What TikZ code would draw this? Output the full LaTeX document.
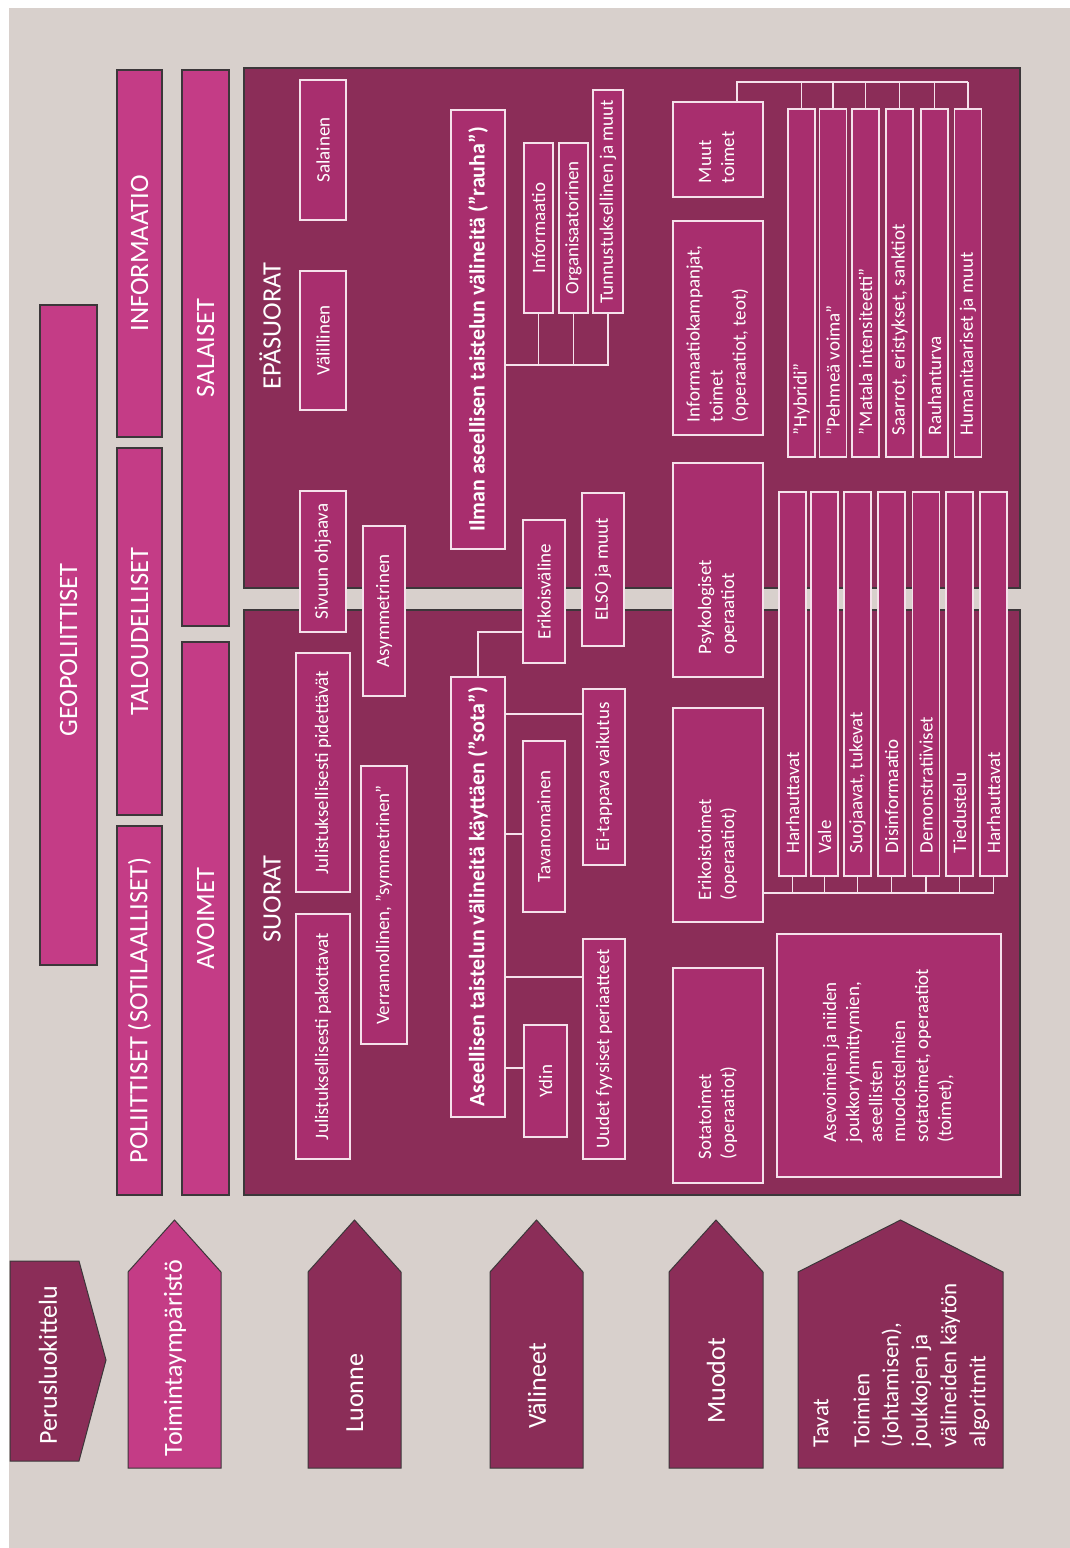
\documentclass[tikz,border=0pt]{standalone}
\usepackage{fontspec}
\setmainfont{Carlito}
\usepackage{graphicx}
\definecolor{bgcol}{HTML}{D8D0CC}
\definecolor{pinkA}{HTML}{C43C86}
\definecolor{plum}{HTML}{8B2D58}
\definecolor{boxfill}{HTML}{A82E6E}
\definecolor{boxline}{HTML}{F5E1EB}
\definecolor{edgegray}{HTML}{3C373A}
\newcommand{\vtext}[1]{\rotatebox{90}{#1}}
\newcommand{\vleft}[2]{\rotatebox{90}{\makebox[#1][l]{#2}}}
\newcommand{\mlines}[1]{\begin{tabular}{@{}l@{}}#1\end{tabular}}

\begin{document}
\begin{tikzpicture}[x=1pt,y=-1pt,
  colbox/.style={draw=edgegray,line width=1.5pt,fill=pinkA,inner sep=0pt,text=white,font=\fontsize{26.5}{30}\selectfont},
  bigbox/.style={draw=edgegray,line width=1.2pt,fill=plum,inner sep=0pt},
  headlabel/.style={inner sep=0pt,text=white,font=\fontsize{26.5}{30}\selectfont},
  ibox/.style={draw=boxline,line width=1.5pt,fill=boxfill,inner sep=0pt,text=white,font=\fontsize{19}{23}\selectfont},
  tbox/.style={ibox,font=\bfseries\fontsize{22}{26}\selectfont},
  conn/.style={draw=boxline,line width=1.5pt},
  tagshape/.style={draw=edgegray,line width=1pt},
  tagtext/.style={inner sep=0pt,text=white,font=\fontsize{26}{30}\selectfont}]
  \useasboundingbox (0,0) rectangle (1070,1548);
  \fill[bgcol] (9,8) rectangle (1070,1548);

  % toimintaympariston sarakkeet
  \node[colbox,minimum width=57,minimum height=660] (geo)  at (68.5,635)   {\vtext{GEOPOLIITTISET\hspace*{30pt}}};
  \node[colbox,minimum width=45,minimum height=369] (pol)  at (139.5,1010.5) {\vtext{POLIITTISET (SOTILAALLISET)}};
  \node[colbox,minimum width=45,minimum height=367] (tal)  at (139.5,631.5)  {\vtext{TALOUDELLISET}};
  \node[colbox,minimum width=45,minimum height=367] (infc) at (139.5,253.5)  {\vtext{INFORMAATIO}};
  \node[colbox,minimum width=47,minimum height=556] (sala) at (205.5,348)    {\vtext{SALAISET}};
  \node[colbox,minimum width=47,minimum height=553] (avo)  at (205.5,918.5)  {\vtext{AVOIMET}};

  % epasuorat ja suorat
  \node[bigbox,minimum width=776,minimum height=520] (epa) at (632,328)   {};
  \node[bigbox,minimum width=776,minimum height=585] (suo) at (632,902.5) {};
  \node[headlabel] (epal) at (270,326) {\vtext{EPÄSUORAT}};
  \node[headlabel] (suol) at (272,899) {\vtext{SUORAT}};

  % luonne
  \node[ibox,minimum width=46,minimum height=140] (sal)  at (323,150)    {\vtext{Salainen}};
  \node[ibox,minimum width=46,minimum height=139] (val)  at (323,340.5)  {\vtext{Välillinen}};
  \node[ibox,minimum width=46,minimum height=141] (siv)  at (323,561.5)  {\vtext{Sivuun ohjaava}};
  \node[ibox,minimum width=42,minimum height=170] (asy)  at (384,611)    {\vtext{Asymmetrinen}};
  \node[ibox,minimum width=54,minimum height=239] (jpid) at (323,772.5)  {\vtext{Julistuksellisesti pidettävät}};
  \node[ibox,minimum width=54,minimum height=245] (jpak) at (323,1036.5) {\vtext{Julistuksellisesti pakottavat}};
  \node[ibox,minimum width=46,minimum height=278] (ver)  at (384,905)    {\vtext{Verrannollinen, ”symmetrinen”}};

  % valineet
  \node[tbox,minimum width=54,minimum height=439] (ilm)  at (478,329.5)  {\vtext{Ilman aseellisen taistelun välineitä (”rauha”)}};
  \node[ibox,minimum width=29,minimum height=170] (infm) at (538.5,228)  {\vtext{Informaatio}};
  \node[ibox,minimum width=29,minimum height=170] (org)  at (573.5,228)  {\vtext{Organisaatorinen}};
  \node[ibox,minimum width=30,minimum height=223] (tun)  at (608,201.5)  {\vtext{Tunnustuksellinen ja muut}};
  \node[ibox,minimum width=42,minimum height=143] (erv)  at (544,591.5)  {\vtext{Erikoisväline}};
  \node[ibox,minimum width=42,minimum height=153] (elso) at (603,569.5)  {\vtext{ELSO ja muut}};
  \node[tbox,minimum width=54,minimum height=440] (ase)  at (478,897)    {\vtext{Aseellisen taistelun välineitä käyttäen (”sota”)}};
  \node[ibox,minimum width=42,minimum height=171] (tav)  at (544,826.5)  {\vtext{Tavanomainen}};
  \node[ibox,minimum width=43,minimum height=112] (ydin) at (545.5,1081) {\vtext{Ydin}};
  \node[ibox,minimum width=42,minimum height=176] (eit)  at (604,777)    {\vtext{Ei-tappava vaikutus}};
  \node[ibox,minimum width=42,minimum height=220] (uud)  at (604,1049)   {\vtext{Uudet fyysiset periaatteet}};

  % muodot
  \node[ibox,minimum width=90,minimum height=95]  (muu)  at (718,149.5)  {\vleft{67pt}{\mlines{Muut\\toimet}}};
  \node[ibox,minimum width=90,minimum height=214] (ikam) at (718,328)    {\vleft{188pt}{\mlines{Informaatiokampanjat,\\toimet\\(operaatiot, teot)}}};
  \node[ibox,minimum width=90,minimum height=214] (psy)  at (718,570)    {\vleft{168pt}{\mlines{Psykologiset\\operaatiot}}};
  \node[ibox,minimum width=90,minimum height=214] (erk)  at (718,815)    {\vleft{170pt}{\mlines{Erikoistoimet\\(operaatiot)}}};
  \node[ibox,minimum width=90,minimum height=215] (sot)  at (718,1075.5) {\vleft{167pt}{\mlines{Sotatoimet\\(operaatiot)}}};
  \node[ibox,minimum width=224,minimum height=243] (asev) at (889,1055.5) {\vtext{\mlines{Asevoimien ja niiden\\joukkoryhmittymien,\\aseellisten\\muodostelmien\\sotatoimet, operaatiot\\(toimet),}}};

  \foreach \n/\x/\t in {hyb/801.5/{”Hybridi”}, peh/833/{”Pehmeä voima”}, mat/865.5/{”Matala intensiteetti”},
                        saa/899.5/{Saarrot, eristykset, sanktiot}, rau/934.5/Rauhanturva, hum/968/{Humanitaariset ja muut}}
    \node[ibox,minimum width=27,minimum height=348] (\n) at (\x,283) {\vleft{304pt}{\t}};
  \foreach \n/\x/\t in {har1/792.5/Harhauttavat, vale/824.5/Vale, suoj/857.5/{Suojaavat, tukevat}, dis/891.5/Disinformaatio,
                        dem/926/Demonstratiiviset, tie/959.5/Tiedustelu, har2/993.5/Harhauttavat}
    \node[ibox,minimum width=27,minimum height=384] (\n) at (\x,684) {\vleft{338pt}{\t}};

  % yhteydet
  \coordinate (rb) at (608,365);
  \draw[conn] (ilm.east |- rb) -- (rb) -- (tun.south)
              (infm.south) edge (infm.south |- rb)
              (org.south) edge (org.south |- rb);
  \coordinate (mb) at (737,82);
  \draw[conn] (mb |- muu.north) -- (mb) -- (hum.north |- mb);
  \foreach \n in {hyb,peh,mat,saa,rau,hum}
    \draw[conn] (\n.north) -- (\n.north |- mb);
  \coordinate (eb) at (0,893);
  \draw[conn] (erk.east |- eb) -- (har2.south |- eb);
  \foreach \n in {har1,vale,suoj,dis,dem,tie,har2}
    \draw[conn] (\n.south) -- (\n.south |- eb);
  \coordinate (kb) at (0,632);
  \draw[conn] (ase.north) |- (erv.west |- kb);
  \foreach \n/\y in {eit/714, tav/834, uud/977, ydin/1068} {
    \coordinate (hb) at (0,\y);
    \draw[conn] (ase.east |- hb) -- (\n.west |- hb);
  }

  % perusluokittelu
  \filldraw[tagshape,fill=plum] (10,1261) -- (79,1261) -- (106,1360) -- (79,1461) -- (10,1461) -- cycle;
  \foreach \xl/\xr/\c in {128/221/pinkA, 308/401/plum, 490/583/plum, 669/763/plum, 798/1003/plum}
    \filldraw[tagshape,fill=\c] (\xl,1468) -- (\xl,1272) -- ({(\xl+\xr)/2},1220) -- (\xr,1272) -- (\xr,1468) -- cycle;
  \node[tagtext] (per)   at (48,1365)  {\vtext{Perusluokittelu}};
  \node[tagtext] (toi)   at (175,1358) {\vtext{Toimintaympäristö}};
  \node[tagtext] (luo)   at (355,1393) {\vtext{Luonne}};
  \node[tagtext] (vali)  at (537,1386) {\vtext{Välineet}};
  \node[tagtext] (muo)   at (716,1381) {\vtext{Muodot}};
  \node[tagtext,font=\fontsize{23}{29}\selectfont] (tavat) at (901,1365)
    {\vtext{\mlines{Tavat\\[12pt]Toimien\\(johtamisen),\\joukkojen ja\\välineiden käytön\\algoritmit}}};
\end{tikzpicture}
\end{document}
